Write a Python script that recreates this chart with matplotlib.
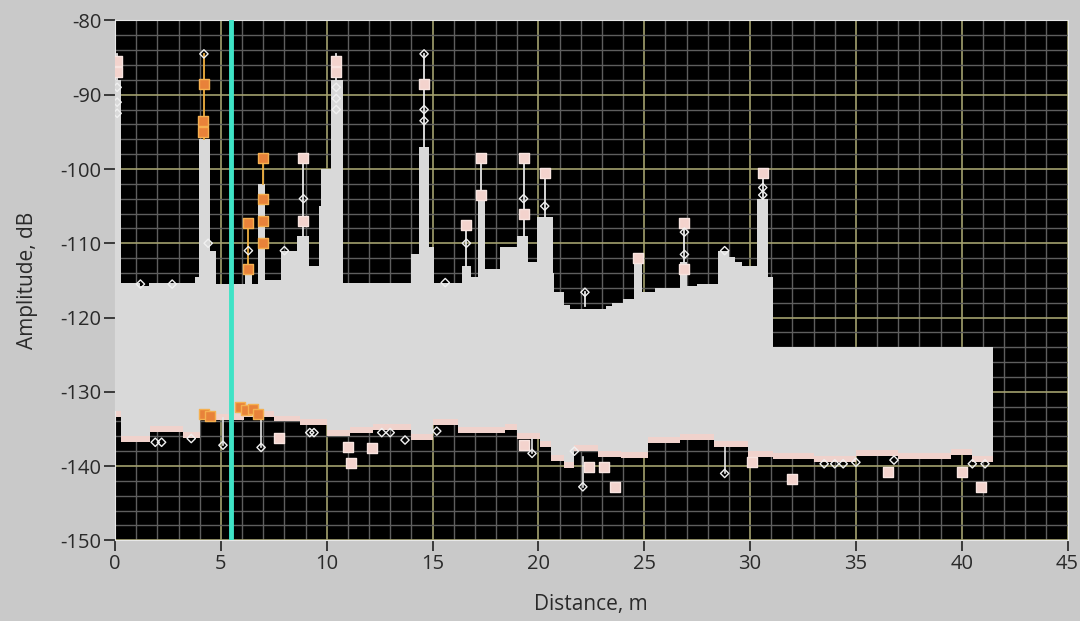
import numpy as np
import matplotlib.pyplot as plt

plt.rcParams['axes.unicode_minus'] = False

# upper edge of the trace band (step, value holds until next x)
top_x = [0.0, 0.3, 1.2, 1.6, 3.8, 3.95, 4.5, 4.75, 6.15, 6.45, 6.75, 7.1, 7.85, 8.6, 9.15,
         9.65, 9.75, 10.2, 10.75, 14.0, 14.35, 14.85, 15.05, 16.4, 16.8, 17.15, 17.5, 18.2,
         19.0, 19.5, 19.95, 20.7, 20.75, 21.2, 21.5, 23.2, 23.5, 24.0, 24.5, 24.9, 25.5,
         26.7, 27.0, 27.5, 28.5, 29.0, 29.3, 29.6, 30.35, 30.85, 31.1, 41.5]
top_y = [-88, -115.3, -115.8, -115.3, -114.5, -96, -111, -115.5, -113.5, -115.5, -102, -115,
         -111, -109, -113, -105, -100, -88, -115.3, -111.5, -97, -110.5, -115.3, -113,
         -114.5, -104, -113.5, -110.5, -109, -112.5, -106.5, -114, -116.5, -118.3, -118.8,
         -118.5, -118, -117.5, -111.7, -116.5, -116, -112.5, -115.8, -115.5, -111, -111.8,
         -112.5, -113, -104, -114.5, -124, -124]

# lower edge of the trace band
bot_x = [0.0, 0.3, 1.65, 3.2, 4.0, 6.1, 7.5, 8.75, 10.0, 11.1, 12.2, 14.0, 15.0, 16.2, 18.4,
         19.0, 20.1, 20.6, 21.2, 21.7, 22.8, 23.9, 25.2, 26.7, 28.3, 29.9, 31.1, 33.0, 35.0,
         37.0, 39.5, 40.5, 41.5]
bot_y = [-133.4, -136.8, -135.4, -136.2, -133.8, -133.4, -134, -134.5, -136, -135.5, -135.2,
         -136.5, -134.5, -135.5, -135.2, -136.3, -137.4, -139.3, -140.3, -138, -138.8, -138.9,
         -136.9, -136.5, -137.4, -138.8, -139, -139.5, -138.6, -139, -138.5, -139.5, -139.5]

# peak stems: x, base (column top), tip
peak_x = [0.1, 4.2, 6.3, 7.0, 8.9, 10.45, 14.6, 16.6, 17.3, 19.3, 20.3, 22.2, 26.9, 28.8, 30.6]
peak_base = [-88, -96, -113.5, -102, -109, -88, -97, -113, -104, -109, -106.5, -118.5, -112.5, -111, -104]
peak_tip = [-84.5, -84.5, -107, -98.4, -98.2, -84.5, -84.5, -107.2, -98.5, -98.2, -100.3, -116.6, -107, -111, -100.3]
peak_orange = [False, True, True, True, False, False, False, False, False, False, False, False, False, False, False]

# square markers on peaks
sq_x = [0.1, 0.1, 10.45, 10.45, 14.6, 8.9, 8.9, 16.6, 17.3, 17.3, 19.3, 19.3, 20.3, 26.9, 26.9, 30.6, 24.7]
sq_y = [-85.5, -87, -85.5, -87, -88.5, -98.5, -107, -107.5, -98.5, -103.5, -98.5, -106, -100.5, -107.3, -113.5, -100.5, -112]
osq_x = [4.2, 4.15, 4.15, 6.3, 6.3, 7.0, 7.0, 7.0, 7.0, 4.2, 4.5, 5.9, 6.2, 6.5, 6.75]
osq_y = [-88.5, -93.5, -95, -107.3, -113.5, -98.5, -104, -107, -110, -133, -133.2, -132, -132.5, -132.3, -133]

# diamond markers
dia_x = [4.2, 14.6, 0.1, 0.1, 0.1, 10.45, 10.45, 10.45, 14.6, 14.6, 8.9, 16.6, 19.3, 20.3, 26.9,
         26.9, 30.6, 30.6, 22.2, 28.8, 6.3, 4.4, 8.0, 1.2, 2.7, 15.6]
dia_y = [-84.5, -84.5, -89, -91, -92.5, -89, -90.5, -92, -92, -93.5, -104, -110, -104, -105,
         -108.5, -111.5, -102.5, -103.5, -116.6, -111, -111, -110, -111, -115.5, -115.5, -115.3]

# low outliers
low_sq_x = [7.75, 11.0, 11.15, 12.15, 19.3, 22.4, 23.1, 23.6, 30.1, 32.0, 36.5, 40.0, 40.9]
low_sq_y = [-136.2, -137.4, -139.6, -137.6, -137.2, -140.1, -140.1, -142.8, -139.5, -141.7, -140.8, -140.8, -142.8]
low_stem_x = [5.1, 6.9, 19.7, 22.1, 28.8]
low_stem_base = [-133.6, -133.4, -136.3, -138.8, -137.4]
low_stem_tip = [-137.2, -137.5, -138.3, -142.8, -141]
low_dia_x = [1.9, 2.2, 3.6, 9.2, 9.4, 12.6, 13.0, 13.7, 15.2, 21.7, 33.5, 34.0, 34.4, 35.0, 40.5, 41.1, 36.8]
low_dia_y = [-136.8, -136.8, -136.3, -135.5, -135.5, -135.5, -135.5, -136.5, -135.3, -138,
             -139.7, -139.7, -139.7, -139.5, -139.7, -139.7, -139.2]

cursor_x = 5.5


def step_path(xs, ys):
    px, py = [], []
    for i in range(len(xs) - 1):
        px += [xs[i], xs[i + 1]]
        py += [ys[i], ys[i]]
    return px, py


fig = plt.figure(figsize=(10.8, 6.21), dpi=100, facecolor='#c9c9c9')
ax = fig.add_axes([0.1065, 0.130, 0.882, 0.837])
ax.set_facecolor('black')

tx, ty = step_path(top_x, top_y)
bx, by = step_path(bot_x, bot_y)
# pink under-layer, then gray band
ax.fill(tx + bx[::-1], ty + by[::-1], color='#f0d2cc', zorder=2, lw=0)
ax.fill(tx + bx[::-1], ty + [v + 0.8 for v in by[::-1]], color='#d9d9d9', zorder=3, lw=0)

for x, b, t, o in zip(peak_x, peak_base, peak_tip, peak_orange):
    ax.plot([x, x], [b, t], color='#f0b040' if o else '#e6e6e6', lw=1.3, zorder=4)
for x, b, t in zip(low_stem_x, low_stem_base, low_stem_tip):
    ax.plot([x, x], [b, t], color='#e6e6e6', lw=1.2, zorder=4)

ax.scatter(sq_x, sq_y, marker='s', s=55, color='#f3d3cd', edgecolors='#f8e4e0', zorder=5)
ax.scatter(osq_x, osq_y, marker='s', s=45, color='#e8823a', edgecolors='#f5b050', zorder=5)
ax.scatter(low_sq_x, low_sq_y, marker='s', s=55, color='#f3d3cd', edgecolors='#f8e4e0', zorder=5)
ax.scatter(dia_x + low_dia_x + low_stem_x, dia_y + low_dia_y + low_stem_tip, marker='D', s=18,
           facecolors='none', edgecolors='#f0f0f0', linewidths=1, zorder=6)

ax.axvline(cursor_x, color='#3fe3c6', lw=3.5, zorder=7)

ax.set_xlim(0, 45)
ax.set_ylim(-150, -80)
ax.set_xticks(np.arange(0, 46, 5))
ax.set_yticks(np.arange(-150, -79, 10))
ax.set_xticks(np.arange(0, 46, 1), minor=True)
ax.set_yticks(np.arange(-150, -79, 2), minor=True)
ax.grid(which='minor', color='#5e5e5e', lw=1)
ax.grid(which='major', color='#a3a06e', lw=1.2)
ax.set_axisbelow(True)
ax.tick_params(which='minor', length=0)
ax.tick_params(which='major', length=8, width=1.2, color='#222222', labelsize=14.5,
               labelcolor='#2a2a2a', pad=2)
for s in ax.spines.values():
    s.set_color('#e8e8e8')
for lab in ax.get_xticklabels() + ax.get_yticklabels():
    lab.set_family('Open Sans')

ax.set_xlabel('Distance, m', fontsize=15, color='#2a2a2a', family='Open Sans', labelpad=14)
ax.set_ylabel('Amplitude, dB', fontsize=15, color='#2a2a2a', family='Open Sans', labelpad=16)

fig.savefig('out.png', dpi=100, facecolor=fig.get_facecolor())
